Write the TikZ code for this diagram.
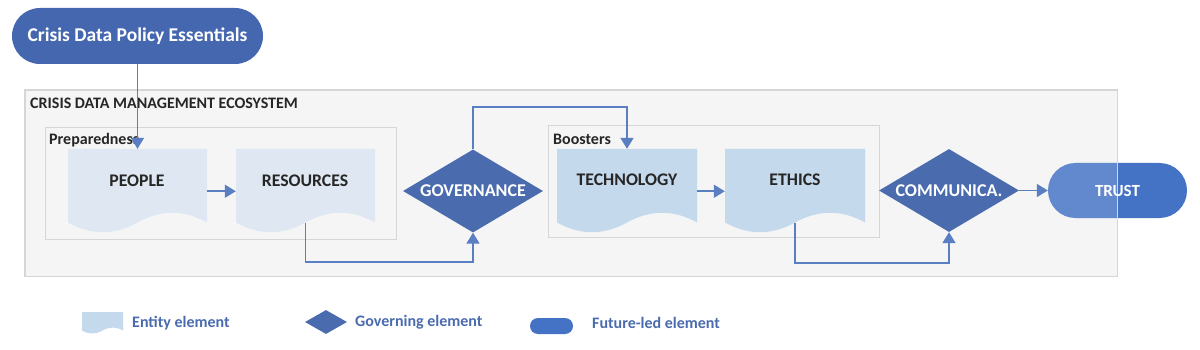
\documentclass[tikz,border=0pt]{standalone}
\usepackage{fontspec}
\setmainfont{Carlito}
\usetikzlibrary{shapes.geometric,arrows.meta}
\definecolor{pillblue}{HTML}{4467B0}
\definecolor{trustblue}{HTML}{4472C4}
\definecolor{diablue}{HTML}{4A6BAE}
\definecolor{conncol}{HTML}{5A7EC2}
\definecolor{entlight}{HTML}{DFE8F2}
\definecolor{entmid}{HTML}{C5D9ED}
\definecolor{boxfill}{HTML}{F5F5F5}
\definecolor{boxline}{HTML}{D6D6D6}
\definecolor{legtext}{HTML}{4A6BAE}
\definecolor{darktext}{HTML}{262626}
\newcommand\docpath[6]{% x0 y0 w h amp fill
  \fill[#6] (#1,#2) -- ({#1+#3},#2) -- ({#1+#3},{#2+#4})
    .. controls ({#1+5*#3/6},{#2+#4-#5}) and ({#1+2*#3/3},{#2+#4-#5}) .. ({#1+#3/2},{#2+#4})
    .. controls ({#1+#3/3},{#2+#4+#5}) and ({#1+#3/6},{#2+#4+#5}) .. (#1,{#2+#4}) -- cycle;}
\tikzset{
  hidden/.style={draw=none,inner sep=0pt,minimum width=139pt,minimum height=73.5pt},
  doctext/.style={font=\bfseries\fontsize{17.7}{19}\selectfont,text=darktext},
  grouplabel/.style={font=\bfseries\fontsize{16}{18}\selectfont,text=darktext,anchor=west,inner sep=0pt},
  govdia/.style={diamond,fill=diablue,inner sep=0pt,minimum width=140pt,minimum height=83pt,shape aspect=1.687,text=white,font=\bfseries\fontsize{18}{20}\selectfont},
  conn/.style={draw=conncol,line width=1.7pt,-{Triangle[length=11pt,width=13pt]}},
  groupbox/.style={draw=boxline,line width=0.9pt,fill=boxfill,inner sep=0pt},
  legtxt/.style={font=\bfseries\fontsize{16}{18}\selectfont,text=legtext,anchor=west,inner sep=0pt}
}
\begin{document}
\begin{tikzpicture}[x=1pt,y=-1pt]
\useasboundingbox[fill=white] (0,0) rectangle (1200,350);
% top pill
\node[fill=pillblue,rounded corners=28pt,minimum width=251pt,minimum height=56pt,inner sep=0pt,text=white,font=\bfseries\fontsize{19.5}{21}\selectfont] (title) at (137.5,36) {Crisis Data Policy Essentials};
% outer ecosystem box
\node[groupbox,minimum width=1092pt,minimum height=186pt] (eco) at (571,183) {};
\node[grouplabel] (ecolab) at (30,103) {CRISIS DATA MANAGEMENT ECOSYSTEM};
% group boxes
\node[groupbox,minimum width=351pt,minimum height=112pt] (prep) at (220.5,183) {};
\node[grouplabel] (preplab) at (49,140) {Preparedness};
\node[groupbox,minimum width=331pt,minimum height=112pt] (boost) at (713.5,181) {};
\node[grouplabel] (boostlab) at (553,139) {Boosters};
% document shapes
\docpath{68}{149}{139}{73.5}{13}{entlight}
\docpath{236}{149}{139}{73.5}{13}{entlight}
\docpath{557}{149}{140}{73.5}{13}{entmid}
\docpath{725}{149}{140}{73.5}{13}{entmid}
\node[hidden] (people) at (137.5,185.75) {};
\node[hidden] (res) at (305.5,185.75) {};
\node[hidden,minimum width=140pt] (tech) at (627,185.75) {};
\node[hidden,minimum width=140pt] (ethics) at (795,185.75) {};
\node[doctext] (peopleT) at (137,181) {PEOPLE};
\node[doctext] (resT) at (305,181) {RESOURCES};
\node[doctext] (techT) at (627,180) {TECHNOLOGY};
\node[doctext] (ethicsT) at (795,180) {ETHICS};
% diamonds
\node[govdia] (gov) at (473,191) {GOVERNANCE};
\node[govdia] (comm) at (949,190.5) {COMMUNICA.};
% trust pill
\node[fill=trustblue,rounded corners=27.5pt,minimum width=139pt,minimum height=55pt,inner sep=0pt] (trust) at (1117.5,190.5) {};
\begin{scope}
  \clip (eco.north west) rectangle (eco.south east);
  \fill[white,fill opacity=0.16,rounded corners=27.5pt] (trust.north west) rectangle (trust.south east);
\end{scope}
\draw[boxline,line width=0.9pt] (eco.north west) rectangle (eco.south east);
\node[text=white,font=\bfseries\fontsize{17}{19}\selectfont] (trustT) at (trust.center) {TRUST};
% connectors
\coordinate (c1) at (473,262);
\coordinate (c2) at (473,107);
\coordinate (c3) at (949,263);
\draw[conn] (title.south) -- (title.south |- people.north);
\draw[conn] ([yshift=-5.5pt]people.east) -- ([yshift=-5.5pt]res.west);
\draw[conn] (res.south) |- (c1) -- (gov.south);
\draw[conn] (gov.north) -- (c2) -| (tech.north);
\draw[conn] ([yshift=-5.5pt]tech.east) -- ([yshift=-5.5pt]ethics.west);
\draw[conn] (ethics.south) |- (c3) -- (comm.south);
\draw[conn] (comm.east) -- (trust.west);
% legend
\docpath{82}{312}{41}{18.5}{4}{entmid}
\node[hidden,minimum width=41pt,minimum height=18.5pt] (legent) at (102.5,321.25) {};
\node[legtxt] (legentT) at (132,323) {Entity element};
\node[diamond,fill=diablue,inner sep=0pt,minimum width=42pt,minimum height=24pt,shape aspect=1.75] (legdia) at (326,322) {};
\node[legtxt] (legdiaT) at (355,322.5) {Governing element};
\node[fill=trustblue,rounded corners=8pt,minimum width=43pt,minimum height=16pt,inner sep=0pt] (legpill) at (551.5,326) {};
\node[legtxt] (legpillT) at (592,322.5) {Future-led element};
\end{tikzpicture}
\end{document}
